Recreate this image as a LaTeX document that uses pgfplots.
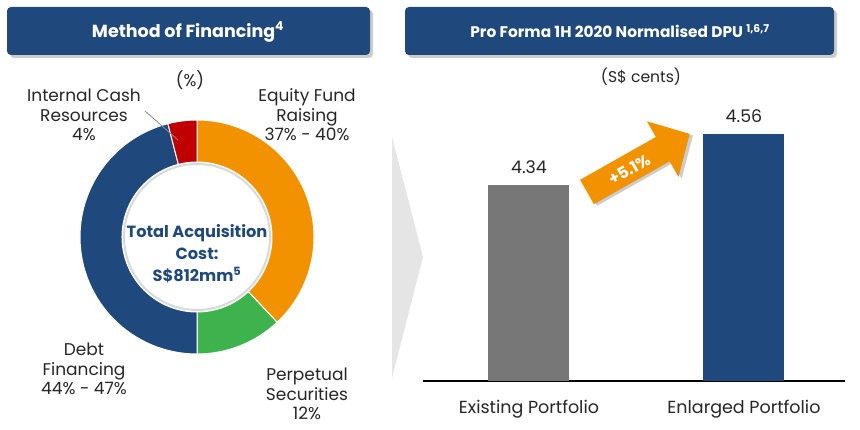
\documentclass[border=0pt]{standalone}
\usepackage{fontspec}
\setmainfont{Poppins}
\usepackage{pgfplots}
\pgfplotsset{compat=1.18}

\definecolor{navy}{RGB}{31,73,125}
\definecolor{fundorange}{RGB}{243,146,0}
\definecolor{fundgreen}{RGB}{62,178,76}
\definecolor{fundred}{RGB}{192,0,0}
\definecolor{bargrey}{RGB}{119,119,119}
\definecolor{txt}{RGB}{38,38,38}

% donut segment: start %, end %, colour (clockwise from 12 o'clock)
\newcommand{\seg}[3]{%
  \fill[#3, draw=white, line width=1pt]
    (axis cs:{117*cos(90-3.6*#1)},{117*sin(90-3.6*#1)})
    arc[start angle={90-3.6*#1}, end angle={90-3.6*#2}, radius=117pt]
    -- (axis cs:{75*cos(90-3.6*#2)},{75*sin(90-3.6*#2)})
    arc[start angle={90-3.6*#2}, end angle={90-3.6*#1}, radius=75pt]
    -- cycle;}

\begin{document}
\begin{tikzpicture}[x=1pt,y=1pt]
\path (0,0) rectangle (860,429);

% title banners
\fill[black!20, rounded corners=4pt] (10,371) rectangle (373,419);
\fill[navy, rounded corners=4pt] (7,374) rectangle (370,422);
\node[white, font=\fontsize{17.5}{20}\selectfont\bfseries] at (188,397) {Method of Financing\textsuperscript{4}};
\fill[black!20, rounded corners=4pt] (408,371) rectangle (837,419);
\fill[navy, rounded corners=4pt] (405,374) rectangle (834,422);
\node[white, font=\fontsize{15.4}{18}\selectfont\bfseries] at (620,398) {Pro Forma 1H 2020 Normalised DPU \textsuperscript{1,6,7}};

% donut: method of financing (% of total acquisition cost)
\begin{axis}[at={(197pt,192pt)}, anchor=origin, x=1pt, y=1pt,
  xmin=-120, xmax=120, ymin=-120, ymax=120, hide axis, clip=false]
\seg{0}{38}{fundorange}   % equity fund raising
\seg{38}{50}{fundgreen}   % perpetual securities 12
\seg{50}{96}{navy}        % debt financing
\seg{96}{100}{fundred}    % internal cash resources 4
\draw[black!15, line width=2pt] (axis cs:0,0) circle[radius=73pt];
\end{axis}

\begin{scope}[font=\fontsize{17}{19.5}\selectfont, text=txt]
\node at (190,349) {(\%)};
\node[align=center] at (84,314) {Internal Cash\\Resources\\4\%};
\node[align=center] at (307,314) {Equity Fund\\Raising\\37\% - 40\%};
\node[align=center] at (84,60) {Debt\\Financing\\44\% - 47\%};
\node[align=center] at (307,35) {Perpetual\\Securities\\12\%};
\end{scope}
\draw[black!45, line width=0.8pt] (145,318) -- (178,289);
\node[align=center, text=navy, font=\fontsize{16.2}{22}\selectfont\bfseries] at (197,175)
  {Total Acquisition\\Cost:\\S\$812mm\textsuperscript{5}};

% chevron
\fill[black!10] (392,292) -- (423,172) -- (392,51) -- cycle;

% DPU bars
\node[text=txt, font=\fontsize{15.6}{18}\selectfont] at (641,352) {(S\$ cents)};
\begin{axis}[at={(423pt,48pt)}, anchor=south west, scale only axis,
  width=422pt, height=281pt,
  xmin=-0.493, xmax=1.47, ymin=3.5, ymax=4.706,
  ybar, bar width=81pt,
  axis x line*=bottom, axis y line=none,
  x axis line style={black, line width=1.2pt},
  xtick={0,1}, xticklabels={Existing Portfolio,Enlarged Portfolio},
  major tick length=0pt, ytick=\empty,
  xticklabel style={anchor=base, yshift=-32pt, text=txt, font=\fontsize{17.5}{20}\selectfont},
  /pgf/number format/assume math mode=true,
  nodes near coords={\pgfmathprintnumber[fixed,precision=2]{\pgfplotspointmeta}},
  every node near coord/.append style={anchor=base, yshift=12pt, text=txt, font=\fontsize{17.4}{20}\selectfont},
  clip=false]
\addplot[fill=bargrey, draw=none, bar shift=0pt] coordinates {(0,4.34)};
\addplot[fill=navy, draw=none, bar shift=0pt] coordinates {(1,4.56)};
\end{axis}

% growth arrow
\begin{scope}[shift={(587,237)}, rotate=29.5]
\fill[black!20] (2,-17) -- (89,-17) -- (89,-35) -- (120,-3) -- (89,29) -- (89,11) -- (2,11) -- cycle;
\fill[fundorange] (0,-14) -- (87,-14) -- (87,-32) -- (118,0) -- (87,32) -- (87,14) -- (0,14) -- cycle;
\node[white, rotate=29.5, font=\fontsize{16}{18}\selectfont\bfseries] at (48,-1) {+5.1\%};
\end{scope}
\end{tikzpicture}
\end{document}
